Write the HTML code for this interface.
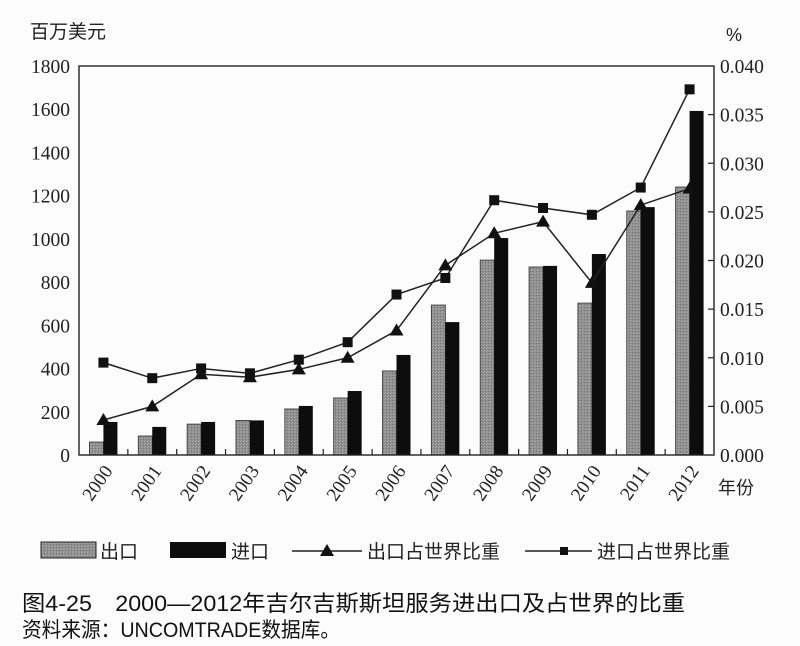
<!DOCTYPE html>
<html><head><meta charset="utf-8"><style>
body{margin:0;background:#fbfcfb;}
svg{display:block;font-family:"Liberation Serif","Noto Serif CJK SC",serif;}
.cjk{font-family:"Liberation Sans","Noto Sans CJK SC",sans-serif;}
</style></head><body>
<svg id="chart" width="800" height="646" viewBox="0 0 800 646">
<defs><pattern id="grain" width="3" height="3" patternUnits="userSpaceOnUse"><rect width="3" height="3" fill="#8f8f8f"/><rect x="0" y="0" width="1" height="1" fill="#ababab"/><rect x="2" y="1" width="1" height="1" fill="#777"/><rect x="1" y="2" width="1" height="1" fill="#a0a0a0"/></pattern></defs>
<text class="cjk" x="30" y="38" font-size="19" fill="#222">百万美元</text>
<text class="cjk" x="726" y="41" font-size="18" fill="#222">%</text>
<g id="plot"></g>
<text class="cjk" x="718" y="494" font-size="18" fill="#222">年份</text>
<g class="cjk" font-size="19" fill="#222">
<g><rect x="41" y="542" width="55" height="16" fill="url(#grain)" stroke="#222"/><text x="100" y="558">出口</text></g>
<g><rect x="170" y="542" width="56" height="16" fill="#0d0d0d"/><text x="231" y="558">进口</text></g>
<g><line x1="292" y1="551" x2="362" y2="551" stroke="#222" stroke-width="1.5"/><path d="M327 544 L334 556 L320 556Z" fill="#111"/><text x="367" y="558">出口占世界比重</text></g>
<g><line x1="525" y1="551" x2="592" y2="551" stroke="#222" stroke-width="1.5"/><rect x="560" y="547" width="8" height="8" fill="#111"/><text x="597" y="558">进口占世界比重</text></g>
</g>
<text class="cjk" x="22" y="611" font-size="22" fill="#111" textLength="663" lengthAdjust="spacingAndGlyphs">图4-25　2000—2012年吉尔吉斯斯坦服务进出口及占世界的比重</text>
<text class="cjk" x="22" y="637" font-size="21" fill="#111" textLength="318" lengthAdjust="spacingAndGlyphs">资料来源：UNCOMTRADE数据库。</text>
</svg>
<script>
const years=["2000","2001","2002","2003","2004","2005","2006","2007","2008","2009","2010","2011","2012"];
const exportsVal=[60,88,143,160,213,264,389,694,902,870,703,1129,1240];
const importsVal=[153,130,153,160,227,296,463,615,1004,875,930,1147,1592];
const exportShare=[0.0036,0.0050,0.0083,0.0080,0.0088,0.0100,0.0128,0.0195,0.0228,0.0240,0.0177,0.0257,0.0274];
const importShare=[0.0095,0.0079,0.0089,0.0084,0.0098,0.0116,0.0165,0.0182,0.0262,0.0254,0.0247,0.0275,0.0376];
const leftTicks=[0,200,400,600,800,1000,1200,1400,1600,1800];
const rightTicks=["0.000","0.005","0.010","0.015","0.020","0.025","0.030","0.035","0.040"];
const L=79,R=714,T=66,B=455;
const bw=(R-L)/years.length;
const yL=v=>B-v/1800*(B-T);
const yR=v=>B-v/0.04*(B-T);
const cx=i=>L+bw*(i+0.5);
const NS="http://www.w3.org/2000/svg";
const g=document.getElementById('plot');
function mk(tag,attrs,parent){const e=document.createElementNS(NS,tag);for(const k in attrs)e.setAttribute(k,attrs[k]);(parent||g).appendChild(e);return e;}
years.forEach((y,i)=>{
  const a=mk('rect',{x:cx(i)-14,y:yL(exportsVal[i]),width:14,height:B-yL(exportsVal[i]),fill:'url(#grain)',stroke:'#333','stroke-width':0.8});
  
  
  const b=mk('rect',{x:cx(i),y:yL(importsVal[i]),width:14,height:B-yL(importsVal[i]),fill:'#0d0d0d'});
  
  
  const t=mk('text',{x:cx(i)+10,y:471,'font-size':19,fill:'#222','text-anchor':'end',transform:`rotate(-55 ${cx(i)+10} 471)`});
  t.textContent=y;
  
  
  if(i>0){const tk=mk('line',{x1:L+bw*i,x2:L+bw*i,y1:B,y2:B-6,stroke:'#222','stroke-width':1.2});
  
  }
});
const frame=mk('rect',{x:L,y:T,width:R-L,height:B-T,fill:'none',stroke:'#222','stroke-width':1.4});


leftTicks.forEach(v=>{
  const t=mk('text',{x:70,y:yL(v)+7,'font-size':19.5,fill:'#222','text-anchor':'end'});
  t.textContent=v;
  
  
});
rightTicks.forEach((s,i)=>{
  const v=parseFloat(s);
  const t=mk('text',{x:720,y:yR(v)+7,'font-size':19.5,fill:'#222'});
  t.textContent=s;
  
  
  if(i>0&&i<rightTicks.length-1){const tk=mk('line',{x1:R,x2:R-6,y1:yR(v),y2:yR(v),stroke:'#222','stroke-width':1.2});
  
  }
});
const pe=mk('polyline',{points:exportShare.map((v,i)=>cx(i)+','+yR(v)).join(' '),fill:'none',stroke:'#222','stroke-width':1.5});


const pi=mk('polyline',{points:importShare.map((v,i)=>cx(i)+','+yR(v)).join(' '),fill:'none',stroke:'#222','stroke-width':1.5});


exportShare.forEach((v,i)=>{
  const x=cx(i),y=yR(v);
  const p=mk('path',{d:`M${x} ${y-7} L${x+7} ${y+5} L${x-7} ${y+5}Z`,fill:'#111'});
  
  
});
importShare.forEach((v,i)=>{
  const p=mk('rect',{x:cx(i)-5,y:yR(v)-5,width:10,height:10,fill:'#111'});
  
  
});
</script>
</body></html>
